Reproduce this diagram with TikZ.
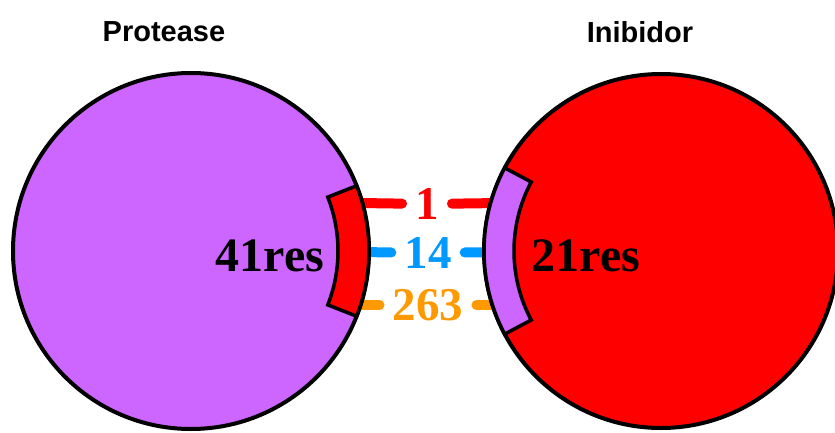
\documentclass[tikz,border=0pt]{standalone}
\usepackage{fontspec}
\setmainfont{Liberation Serif}
\newfontfamily\titlefont{Liberation Sans}
\definecolor{prot}{HTML}{CC66FF}
\definecolor{inib}{HTML}{FF0000}
\definecolor{cblue}{HTML}{0099FF}
\definecolor{corange}{HTML}{FF9900}
\tikzset{
  ball/.style={circle, draw=black, line width=4pt, inner sep=0pt},
  patchbox/.style={draw=black, line width=3.5pt, line join=miter},
  conn/.style={line width=10pt, line cap=round},
  num/.style={font=\fontsize{47}{48}\selectfont\bfseries, inner xsep=13pt, inner ysep=0pt},
  reslabel/.style={font=\fontsize{48}{49}\selectfont\bfseries, text=black, inner sep=0pt},
  title/.style={font=\titlefont\fontsize{29}{30}\selectfont\bfseries, inner sep=0pt}
}
\begin{document}
\begin{tikzpicture}[x=1pt,y=-1pt]
\useasboundingbox (0,0) rectangle (835,433);
% titles
\node[title] (tp) at (164,32) {Protease};
\node[title] (ti) at (640,32) {Inibidor};
% connectors (behind circles)
\coordinate (L1) at (360,203); \coordinate (R1) at (500,203);
\coordinate (L2) at (360,252); \coordinate (R2) at (500,252);
\coordinate (L3) at (360,305); \coordinate (R3) at (500,305);
\node[num, text=inib] (n1) at (427,204) {1};
\node[num, text=cblue] (n14) at (428,253) {14};
\node[num, text=corange] (n263) at (428,305) {263};
\draw[conn, inib] (L1) -- (n1);
\draw[conn, inib] (n1) -- (R1);
\draw[conn, cblue] (L2) -- (n14);
\draw[conn, cblue] (n14) -- (R2);
\draw[conn, corange] (L3) -- (n263);
\draw[conn, corange] (n263) -- (R3);
% circles
\node[ball, fill=prot, minimum size=356pt] (P) at (191,251) {};
\node[ball, fill=inib, minimum size=354pt] (I) at (661,251) {};
% interface patches
\draw[patchbox, fill=inib] ([shift={(-21.5:147)}]P.center) arc[start angle=-21.5, end angle=21.5, radius=147]
  -- ([shift={(21.5:178)}]P.center) arc[start angle=21.5, end angle=-21.5, radius=178] -- cycle;
\draw[patchbox, fill=prot] ([shift={(152:147)}]I.center) arc[start angle=152, end angle=208, radius=147]
  -- ([shift={(208:177)}]I.center) arc[start angle=208, end angle=152, radius=177] -- cycle;
% residue labels
\node[reslabel] (r41) at (270,256) {41res};
\node[reslabel] (r21) at (586,256) {21res};
\end{tikzpicture}
\end{document}
